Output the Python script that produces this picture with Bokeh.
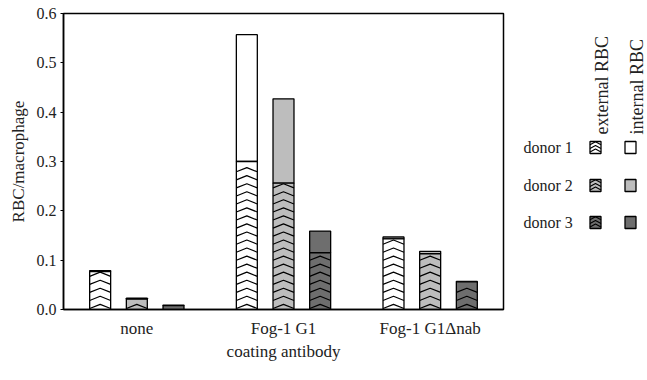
import numpy as np
from bokeh.plotting import figure
from bokeh.layouts import row
from bokeh.models import Range1d, FixedTicker, PrintfTickFormatter, ColumnDataSource
from bokeh.core.properties import value
from bokeh.embed import file_html
from bokeh.resources import INLINE

# ---------------- data ----------------
groups = ["none", "Fog-1 G1", "Fog-1 G1\u0394nab"]
donors = ["donor 1", "donor 2", "donor 3"]
external = {
    "donor 1": [0.077, 0.300, 0.143],
    "donor 2": [0.021, 0.256, 0.113],
    "donor 3": [0.008, 0.115, 0.056],
}
internal = {
    "donor 1": [0.002, 0.257, 0.004],
    "donor 2": [0.002, 0.171, 0.005],
    "donor 3": [0.001, 0.044, 0.001],
}
donor_colors = ["#ffffff", "#bdbdbd", "#6e6e6e"]
y_ticks = [0.0, 0.1, 0.2, 0.3, 0.4, 0.5, 0.6]
legend_headers = ["external RBC", "internal RBC"]

FONT = "Liberation Serif"
TXT = "#222222"

B_TOP, B_BOT = 13, 64
H = 373

# ---------------- main plot ----------------
p = figure(width=505, height=H, output_backend="svg", toolbar_location=None,
           x_range=Range1d(-0.5, 2.5), y_range=Range1d(0, 0.6),
           min_border_left=63, min_border_right=2,
           min_border_top=B_TOP, min_border_bottom=B_BOT)
p.xgrid.visible = False
p.ygrid.visible = False
p.outline_line_color = "black"
p.outline_line_width = 1.5

offsets = [-0.25, 0.0, 0.25]
bar_w = 0.143
step = 0.0163
rise = 0.0085

for d, off, col in zip(donors, offsets, donor_colors):
    xs = [g + off for g in range(len(groups))]
    ext = external[d]
    inn = internal[d]
    tot = [a + b for a, b in zip(ext, inn)]
    src = ColumnDataSource(dict(x=xs, ext=ext, tot=tot, zero=[0] * len(xs)))
    p.vbar(x="x", bottom="ext", top="tot", width=bar_w, source=src,
           fill_color=col, line_color="black", line_width=1.3)
    p.vbar(x="x", bottom="zero", top="ext", width=bar_w, source=src,
           fill_color=col, line_color="black", line_width=1.3)
    # chevron pattern for the external part
    cx, cy = [], []
    for x, e in zip(xs, ext):
        for y0 in np.arange(0.002, e - rise, step):
            cx.append([x - bar_w / 2, x, x + bar_w / 2])
            cy.append([y0, y0 + rise, y0])
    p.multi_line(cx, cy, line_color="black", line_width=1.2)

p.xaxis.ticker = FixedTicker(ticks=list(range(len(groups))))
p.xaxis.major_label_overrides = {i: g for i, g in enumerate(groups)}
p.xaxis.major_tick_line_color = None
p.xaxis.minor_tick_line_color = None
p.xaxis.axis_line_width = 1.5
p.xaxis.major_label_standoff = 3
p.xaxis.axis_label = "coating antibody"
p.xaxis.axis_label_standoff = 1

p.yaxis.ticker = FixedTicker(ticks=y_ticks)
p.yaxis.formatter = PrintfTickFormatter(format="%.1f")
p.yaxis.minor_tick_line_color = None
p.yaxis.major_tick_in = 0
p.yaxis.major_tick_out = 3
p.yaxis.axis_line_width = 1.5
p.yaxis.major_label_standoff = 4
p.yaxis.axis_label = "RBC/macrophage"
p.yaxis.axis_label_standoff = 6

for ax in (p.xaxis[0], p.yaxis[0]):
    ax.major_label_text_font = FONT
    ax.axis_label_text_font = FONT
    ax.axis_label_text_font_size = "17px"
    ax.axis_label_text_font_style = "normal"
    ax.major_label_text_color = TXT
    ax.axis_label_text_color = TXT
p.yaxis.major_label_text_font_size = "16px"
p.xaxis.major_label_text_font_size = "17px"

# ---------------- legend panel (coordinates = page pixels) ----------------
lw = 140
lg = figure(width=lw, height=H, output_backend="svg", toolbar_location=None,
            x_range=Range1d(505, 505 + lw), y_range=Range1d(H - B_BOT, B_TOP),
            x_axis_location=None, y_axis_location=None,
            min_border_left=0, min_border_right=0,
            min_border_top=B_TOP, min_border_bottom=B_BOT)
lg.xgrid.visible = False
lg.ygrid.visible = False
lg.outline_line_color = None

row_y = [147, 185, 222]
col_x = [595, 630]
sw, sh = 11, 12

lg.text(x=[523] * len(donors), y=row_y, text=donors, text_font=value(FONT),
        text_font_size="16px", text_align="left", text_baseline="middle",
        text_color=TXT)
lg.text(x=[c + 6 for c in col_x], y=[134, 134], text=legend_headers,
        angle=np.pi / 2, text_font=value(FONT), text_font_size="18px",
        text_align="left", text_baseline="middle", text_color=TXT)
lg.rect(x=[col_x[0]] * 3, y=row_y, width=sw, height=sh, fill_color=donor_colors,
        line_color="black", line_width=1.3)
lg.rect(x=[col_x[1]] * 3, y=row_y, width=sw, height=sh, fill_color=donor_colors,
        line_color="black", line_width=1.3)
lcx, lcy = [], []
for y in row_y:
    for k in range(3):
        yb = y + sh / 2 - 1.5 - k * 3.6
        lcx.append([col_x[0] - sw / 2, col_x[0], col_x[0] + sw / 2])
        lcy.append([yb, yb - 3, yb])
lg.multi_line(lcx, lcy, line_color="black", line_width=1.1)

layout = row(p, lg)
open("out.html", "w").write(file_html(layout, INLINE))
